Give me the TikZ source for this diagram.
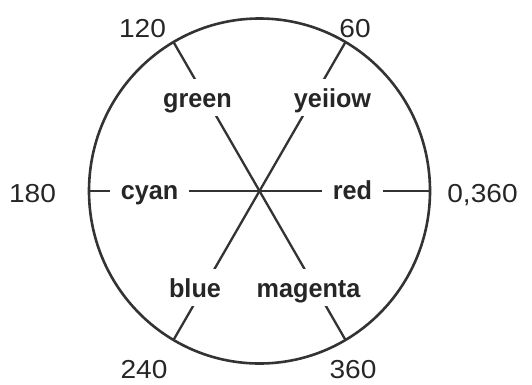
\documentclass[tikz,border=0pt]{standalone}
\usepackage{fontspec}
\newfontfamily\huefont[FakeStretch=0.97]{Liberation Sans}
\newfontfamily\degfont[FakeStretch=1.08]{Liberation Sans}
\usetikzlibrary{shapes.geometric}

\begin{document}
\begin{tikzpicture}[
        x=1pt,
        y=1pt,
        rim/.style={
            draw=black!80,
            ellipse,
            line width=2.6pt,
            inner sep=0pt,
            outer sep=0pt,
            minimum width=341pt,
            minimum height=345pt
        },
        spoke/.style={
            draw=black!80,
            line width=2.3pt
        },
        hue/.style={
            fill=white,
            anchor=base,
            text=black!85,
            font=\huefont\bfseries\fontsize{26}{31}\selectfont,
            text height=22pt,
            text depth=3pt,
            inner xsep=11pt,
            inner ysep=6pt
        },
        degree/.style={
            anchor=base,
            text=black!85,
            font=\degfont\fontsize{26}{31}\selectfont,
            inner sep=0pt
        }
    ]

        \useasboundingbox (0,0) rectangle (532,384);

        % ---------------------------------------------------------------------
        % Hue circle and its three diameters
        % ---------------------------------------------------------------------

        \node[rim] (wheel) at (259.5,193) {};

        \draw[spoke] (wheel.0) -- (wheel.180);
        \draw[spoke] (wheel.60) -- (wheel.240);
        \draw[spoke] (wheel.120) -- (wheel.300);

        % ---------------------------------------------------------------------
        % Colour names on the spokes
        % ---------------------------------------------------------------------

        \node[hue] (red) at (352.5,185) {red};
        \node[hue] (yellow) at (332.5,277) {yeiiow};
        \node[hue] (green) at (197.5,277) {green};
        \node[hue] (cyan) at (149.5,185) {cyan};
        \node[hue] (blue) at (195,87) {blue};
        \node[hue] (magenta) at (308.5,87) {magenta};

        % ---------------------------------------------------------------------
        % Angles round the rim
        % ---------------------------------------------------------------------

        \node[degree] (deg0) at (482.5,182) {0,360};
        \node[degree] (deg60) at (355,347) {60};
        \node[degree] (deg120) at (142.5,347) {120};
        \node[degree] (deg180) at (32.5,182) {180};
        \node[degree] (deg240) at (144,6) {240};
        \node[degree] (deg300) at (353,6) {360};

    \end{tikzpicture}
\end{document}
